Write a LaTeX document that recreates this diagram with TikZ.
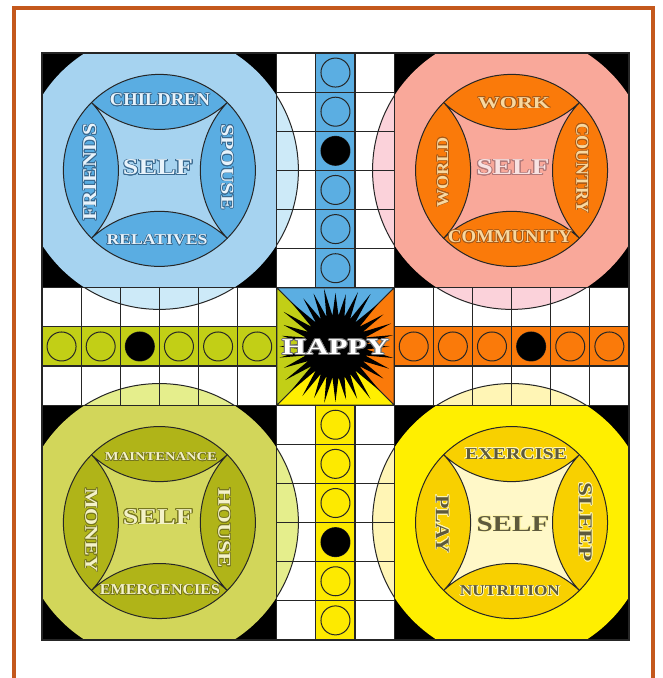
\documentclass[tikz,border=0pt]{standalone}
\usepackage{fontspec}
\setmainfont{Liberation Serif}
\usepackage{graphicx}
\usepackage{contour}
\usetikzlibrary{calc}
\contourlength{0.35pt}
\contournumber{16}
\definecolor{framec}{HTML}{C4581C}
\definecolor{ringB}{HTML}{A6D3F0}
\definecolor{petB}{HTML}{5AADE2}
\definecolor{paleB}{HTML}{CDEAF8}
\definecolor{laneB}{HTML}{5BAEE2}
\definecolor{ringO}{HTML}{F9A89A}
\definecolor{petO}{HTML}{FA7A0A}
\definecolor{paleO}{HTML}{FBD2DA}
\definecolor{laneO}{HTML}{FA7A0A}
\definecolor{ringG}{HTML}{D2D65A}
\definecolor{petG}{HTML}{B0B418}
\definecolor{cenG}{HTML}{D4D860}
\definecolor{paleG}{HTML}{E5EE8C}
\definecolor{laneG}{HTML}{C2CF16}
\definecolor{ringY}{HTML}{FFEF00}
\definecolor{petY}{HTML}{F8D000}
\definecolor{cenY}{HTML}{FFF8C8}
\definecolor{paleY}{HTML}{FFF5B5}
\definecolor{laneY}{HTML}{FDEA00}
\definecolor{tlt}{HTML}{E8F3FB}
\definecolor{tlo}{HTML}{3A6A90}
\definecolor{trt}{HTML}{F8D8A0}
\definecolor{tro}{HTML}{A85A18}
\definecolor{trs}{HTML}{F8E2E2}
\definecolor{trso}{HTML}{B07878}
\definecolor{blt}{HTML}{F4F2C8}
\definecolor{blo}{HTML}{76761E}
\definecolor{brt}{HTML}{5E5A3C}
\definecolor{bro}{HTML}{FFF6B0}
\newcommand{\lab}[5]{\resizebox{#1pt}{#2pt}{{\color{#4}\contour{#3}{\bfseries #5}}}}
\tikzset{
  lbl/.style={inner sep=0pt, outer sep=0pt},
  gridl/.style={draw=black!85, line width=1.1pt},
  thin/.style={draw=black!85, line width=1pt}
}
\newcommand{\homeinner}[3]{%
  \begin{scope}[shift={(#1)}, yscale=-1]
    \fill[#2] (0,0) circle (96);
    \filldraw[fill=#3, thin] (-67.88,67.88)
      arc[start angle=226.74, end angle=313.26, radius=99.04]
      arc[start angle=136.74, end angle=223.26, radius=99.04]
      arc[start angle=46.74, end angle=133.26, radius=99.04]
      arc[start angle=-43.26, end angle=43.26, radius=99.04] -- cycle;
    \draw[thin] (0,0) circle (96);
  \end{scope}}
\begin{document}
\begin{tikzpicture}[x=1pt,y=-1pt]
\useasboundingbox (0,0) rectangle (662,678);
\def\c{39.13}
\def\R{139}
% frame
\draw[framec, line width=3.5pt] (14,680) -- (14,8) -- (653,8) -- (653,680);
% board
\coordinate (b0) at (42,53);
\coordinate (hTL) at ({42+3*\c},{53+3*\c});
\coordinate (hTR) at ({42+12*\c},{53+3*\c});
\coordinate (hBL) at ({42+3*\c},{53+12*\c});
\coordinate (hBR) at ({42+12*\c},{53+12*\c});
\coordinate (M) at ({42+7.5*\c},{53+7.5*\c});
\fill[white] (b0) rectangle ++({15*\c},{15*\c});
% pale circles in the tracks
\begin{scope}
  \clip (b0) rectangle ++({15*\c},{15*\c});
  \fill[paleB] (hTL) circle (\R);
  \fill[paleO] (hTR) circle (\R);
  \fill[paleG] (hBL) circle (\R);
  \fill[paleY] (hBR) circle (\R);
  \draw[thin] (hTL) circle (\R);
  \draw[thin] (hTR) circle (\R);
  \draw[thin] (hBL) circle (\R);
  \draw[thin] (hBR) circle (\R);
\end{scope}
% home squares
\foreach \hx/\hy/\col in {0/0/ringB, 9/0/ringO, 0/9/ringG, 9/9/ringY}{
  \fill[black] ({42+\hx*\c},{53+\hy*\c}) rectangle ++({6*\c},{6*\c});
  \begin{scope}
    \clip ({42+\hx*\c},{53+\hy*\c}) rectangle ++({6*\c},{6*\c});
    \fill[\col] ({42+(\hx+3)*\c},{53+(\hy+3)*\c}) circle (\R);
  \end{scope}
}
\homeinner{hTL}{petB}{ringB}
\homeinner{hTR}{petO}{ringO}
\homeinner{hBL}{petG}{cenG}
\homeinner{hBR}{petY}{cenY}
% lanes
\fill[laneB] ({42+7*\c},53) rectangle ++(\c,{6*\c});
\fill[laneY] ({42+7*\c},{53+9*\c}) rectangle ++(\c,{6*\c});
\fill[laneG] (42,{53+7*\c}) rectangle ++({6*\c},\c);
\fill[laneO] ({42+9*\c},{53+7*\c}) rectangle ++({6*\c},\c);
% center triangles
\coordinate (c1) at ({42+6*\c},{53+6*\c});
\coordinate (c2) at ({42+9*\c},{53+6*\c});
\coordinate (c3) at ({42+9*\c},{53+9*\c});
\coordinate (c4) at ({42+6*\c},{53+9*\c});
\filldraw[fill=laneB, thin] (c1) -- (c2) -- (M) -- cycle;
\filldraw[fill=laneO, thin] (c2) -- (c3) -- (M) -- cycle;
\filldraw[fill=ringY, thin] (c3) -- (c4) -- (M) -- cycle;
\filldraw[fill=laneG, thin] (c4) -- (c1) -- (M) -- cycle;
% grid
\foreach \i in {6,7,8}{
  \foreach \j in {0,1,2,3,4,5,9,10,11,12,13,14}{
    \draw[gridl] ({42+\i*\c},{53+\j*\c}) rectangle ++(\c,\c);
  }
}
\foreach \j in {6,7,8}{
  \foreach \i in {0,1,2,3,4,5,9,10,11,12,13,14}{
    \draw[gridl] ({42+\i*\c},{53+\j*\c}) rectangle ++(\c,\c);
  }
}
% lane circles
\foreach \k in {0,...,5}{
  \filldraw[fill=laneB, thin] ({42+7.5*\c},{53+(\k+0.5)*\c}) circle (14.5);
  \filldraw[fill=laneY, thin] ({42+7.5*\c},{53+(\k+9.5)*\c}) circle (14.5);
  \filldraw[fill=laneG, thin] ({42+(\k+0.5)*\c},{53+7.5*\c}) circle (14.5);
  \filldraw[fill=laneO, thin] ({42+(\k+9.5)*\c},{53+7.5*\c}) circle (14.5);
}
\fill[black] ({42+7.5*\c},{53+2.5*\c}) circle (14.5);
\fill[black] ({42+7.5*\c},{53+12.5*\c}) circle (14.5);
\fill[black] ({42+2.5*\c},{53+7.5*\c}) circle (14.5);
\fill[black] ({42+12.5*\c},{53+7.5*\c}) circle (14.5);
% star
\begin{scope}[shift={(M)}]
  \fill[black] (0:54) \foreach \k in {0,...,31}{
     -- ({(\k+0.5)*11.25}:31)
     -- ({(\k+1)*11.25}:{53+8*abs(sin((\k+1)*22.5))+3*sin((\k+1)*97)}) } -- cycle;
\end{scope}
\node[lbl] (happy) at ($(M)+(0,1)$) {\lab{107}{15}{black!55}{white}{HAPPY}};
% board outline
\draw[gridl] (b0) rectangle ++({15*\c},{15*\c});
% labels top-left
\node[lbl] (children) at (160,100) {\lab{100}{12}{tlo}{tlt}{CHILDREN}};
\node[lbl] (selfTL) at (158,168) {\lab{70}{15}{tlo}{tlt}{SELF}};
\node[lbl, rotate=90] (friends) at (90,172) {\lab{97}{13}{tlo}{tlt}{FRIENDS}};
\node[lbl, rotate=-90] (spouse) at (227,167) {\lab{86}{12}{tlo}{tlt}{SPOUSE}};
\node[lbl] (relatives) at (157,240) {\lab{101}{10}{tlo}{tlt}{RELATIVES}};
% labels top-right
\node[lbl] (work) at (514,103) {\lab{72}{11}{tro}{trt}{WORK}};
\node[lbl, rotate=90] (world) at (443,172) {\lab{70}{11}{tro}{trt}{WORLD}};
\node[lbl, rotate=-90] (country) at (582,168) {\lab{90}{12}{tro}{trt}{COUNTRY}};
\node[lbl] (selfTR) at (513,168) {\lab{73}{15}{trso}{trs}{SELF}};
\node[lbl] (community) at (510,237) {\lab{124}{12}{tro}{trt}{COMMUNITY}};
% labels bottom-left
\node[lbl] (maintenance) at (161,457) {\lab{112}{8}{blo}{blt}{MAINTENANCE}};
\node[lbl, rotate=-90] (money) at (91,530) {\lab{84}{12}{blo}{blt}{MONEY}};
\node[lbl, rotate=-90] (house) at (224,528) {\lab{80}{12}{blo}{blt}{HOUSE}};
\node[lbl] (selfBL) at (158,517) {\lab{70}{15}{blo}{blt}{SELF}};
\node[lbl] (emergencies) at (160,590) {\lab{120}{10}{blo}{blt}{EMERGENCIES}};
% labels bottom-right
\node[lbl] (exercise) at (516,454) {\lab{102}{11}{bro}{brt}{EXERCISE}};
\node[lbl, rotate=-90] (play) at (442,524) {\lab{58}{13}{bro}{brt}{PLAY}};
\node[lbl, rotate=-90] (sleep) at (585,522) {\lab{79}{13}{bro}{brt}{SLEEP}};
\node[lbl] (selfBR) at (513,524) {\lab{73}{15}{bro}{brt}{SELF}};
\node[lbl] (nutrition) at (510,591) {\lab{100}{10}{bro}{brt}{NUTRITION}};
\end{tikzpicture}
\end{document}
